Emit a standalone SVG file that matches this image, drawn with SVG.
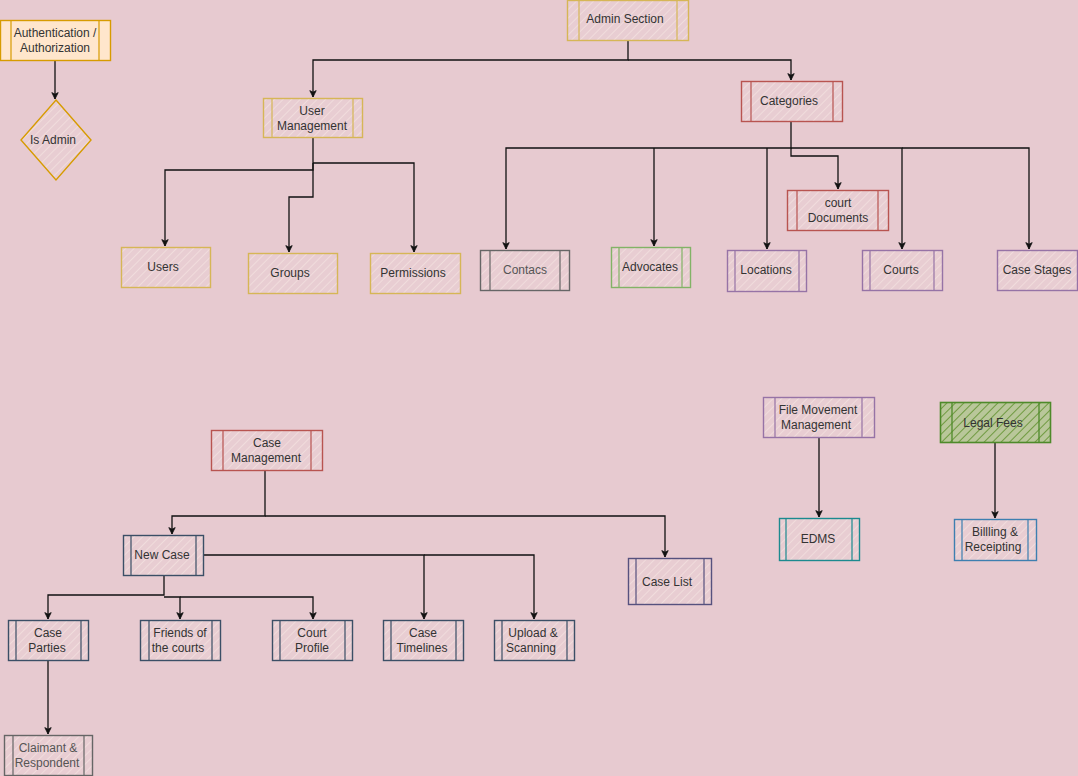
<svg xmlns="http://www.w3.org/2000/svg" width="1078" height="776" viewBox="0 0 1078 776">
<defs>
<pattern id="hp" width="6" height="6" patternUnits="userSpaceOnUse" patternTransform="rotate(45)">
<rect width="6" height="6" fill="#e8cdd2"/>
<line x1="0" y1="0" x2="0" y2="6" stroke="#f0dcdc" stroke-width="2"/>
</pattern>
<pattern id="hg" width="6" height="6" patternUnits="userSpaceOnUse" patternTransform="rotate(45)">
<rect width="6" height="6" fill="#b9c79a"/>
<line x1="0" y1="0" x2="0" y2="6" stroke="#6f9a40" stroke-width="2"/>
</pattern>
<marker id="ar" viewBox="0 0 10 10" refX="9" refY="5" markerWidth="8" markerHeight="8" orient="auto" markerUnits="userSpaceOnUse">
<path d="M1,1 L9,5 L1,9 L3,5 z" fill="#111" stroke="#111" stroke-width="1"/>
</marker>
</defs>
<style>
.n{fill:url(#hp);stroke-width:1.4}
.y{stroke:#d6b656}
.o{stroke:#d79b00}
.r{stroke:#b85450}
.g{stroke:#82b366}
.gd{stroke:#4e8a2a}
.p{stroke:#9673a6}
.k{stroke:#666666}
.b{stroke:#3b4f66}
.bl{stroke:#3d7fb0}
.t{stroke:#1b8a8f}
.cl{stroke:#56517e}
text{font-family:"Liberation Sans",Arial,sans-serif;font-size:12px;fill:#333;text-anchor:middle}
.c path{fill:none;stroke:#111;stroke-width:1.3;marker-end:url(#ar)}
</style>
<rect width="1078" height="776" fill="#e7cad0"/>

<g class="c" id="connectors">
<path d="M55,60 V99"/>
<path d="M628,40 V60 H313 V97"/>
<path d="M628,60 H791 V80"/>
<path d="M313,138 V170 H165 V246"/>
<path d="M313,163 V197 H289 V252"/>
<path d="M313,163 H414 V252"/>
<path d="M791,122 V148 H506 V249"/>
<path d="M654,148 V246"/>
<path d="M767,148 V249"/>
<path d="M791,148 V156 H838 V189"/>
<path d="M791,148 H902 V249"/>
<path d="M902,148 H1029 V249"/>
<path d="M265,470 V516 H172 V534"/>
<path d="M265,516 H665 V557"/>
<path d="M164,575 V595 H48 V619"/>
<path d="M164,597 H180 V619"/>
<path d="M180,597 H313 V619"/>
<path d="M204,555 H424 V619"/>
<path d="M424,555 H534 V619"/>
<path d="M48,660 V734"/>
<path d="M819,437 V517"/>
<path d="M995,442 V518"/>
</g>

<g id="auth">
<rect x="0.5" y="20.5" width="110" height="40" fill="#ffe6cc" stroke="#d79b00" stroke-width="1.4"/>
<path d="M11,20.5 V60.5 M99,20.5 V60.5" stroke="#d79b00" stroke-width="1.2"/>
<text x="55" y="37">Authentication /</text>
<text x="55" y="52">Authorization</text>
</g>
<g id="isadmin">
<path class="n o" d="M56,100 L91,140 L56,180 L21,140 Z"/>
<text x="53" y="144">Is Admin</text>
</g>
<g id="admin">
<rect class="n y" x="567.5" y="0.5" width="121" height="40"/>
<path class="y" d="M579,0 V40 M677,0 V40" stroke-width="1.2"/>
<text x="625" y="23">Admin Section</text>
</g>
<g id="categories">
<rect class="n r" x="741.5" y="81.5" width="101" height="40"/>
<path class="r" d="M751,81 V121 M833,81 V121" stroke-width="1.2"/>
<text x="789" y="105">Categories</text>
</g>
<g id="usermgmt">
<rect class="n y" x="263.5" y="98.5" width="99" height="39"/>
<path class="y" d="M272,98 V138 M353,98 V138" stroke-width="1.2"/>
<text x="312" y="115">User</text>
<text x="312" y="130">Management</text>
</g>
<g id="users">
<rect class="n y" x="121.5" y="247.5" width="89" height="40"/>
<text x="163" y="271">Users</text>
</g>
<g id="groups">
<rect class="n y" x="248.5" y="253.5" width="89" height="40"/>
<text x="290" y="277">Groups</text>
</g>
<g id="permissions">
<rect class="n y" x="370.5" y="253.5" width="90" height="40"/>
<text x="413" y="277">Permissions</text>
</g>
<g id="contacs">
<rect class="n k" x="480.5" y="250.5" width="89" height="40"/>
<path class="k" d="M490,250 V290 M560,250 V290" stroke-width="1.2"/>
<text x="525" y="274" style="fill:#555">Contacs</text>
</g>
<g id="advocates">
<rect class="n g" x="611.5" y="247.5" width="79" height="40"/>
<path class="g" d="M619,247 V287 M682,247 V287" stroke-width="1.2"/>
<text x="650" y="271">Advocates</text>
</g>
<g id="locations">
<rect class="n p" x="727.5" y="250.5" width="79" height="41"/>
<path class="p" d="M735,250 V291 M799,250 V291" stroke-width="1.2"/>
<text x="766" y="274">Locations</text>
</g>
<g id="courtdocs">
<rect class="n r" x="787.5" y="190.5" width="101" height="40"/>
<path class="r" d="M797,190 V230 M878,190 V230" stroke-width="1.2"/>
<text x="838" y="207">court</text>
<text x="838" y="222">Documents</text>
</g>
<g id="courts">
<rect class="n p" x="862.5" y="250.5" width="80" height="40"/>
<path class="p" d="M870,250 V290 M934,250 V290" stroke-width="1.2"/>
<text x="901" y="274">Courts</text>
</g>
<g id="casestages">
<rect class="n p" x="997.5" y="250.5" width="80" height="40"/>
<text x="1037" y="274">Case Stages</text>
</g>
<g id="casemgmt">
<rect class="n r" x="211.5" y="430.5" width="111" height="40"/>
<path class="r" d="M223,430 V470 M311,430 V470" stroke-width="1.2"/>
<text x="267" y="447">Case</text>
<text x="266" y="462">Management</text>
</g>
<g id="newcase">
<rect class="n b" x="123.5" y="535.5" width="80" height="40"/>
<path class="b" d="M131,535 V575 M196,535 V575" stroke-width="1.2"/>
<text x="162" y="559">New Case</text>
</g>
<g id="caselist">
<rect class="n cl" x="628.5" y="558.5" width="83" height="46"/>
<path class="cl" d="M636,558 V604 M704,558 V604" stroke-width="1.2"/>
<text x="667" y="586">Case List</text>
</g>
<g id="caseparties">
<rect class="n b" x="8.5" y="620.5" width="80" height="40"/>
<path class="b" d="M16,620 V660 M81,620 V660" stroke-width="1.2"/>
<text x="48" y="637">Case</text>
<text x="47" y="652">Parties</text>
</g>
<g id="friends">
<rect class="n b" x="140.5" y="620.5" width="80" height="40"/>
<path class="b" d="M149,620 V660 M212,620 V660" stroke-width="1.2"/>
<text x="180" y="637">Friends of</text>
<text x="178" y="652">the courts</text>
</g>
<g id="courtprofile">
<rect class="n b" x="272.5" y="620.5" width="80" height="40"/>
<path class="b" d="M280,620 V660 M345,620 V660" stroke-width="1.2"/>
<text x="312" y="637">Court</text>
<text x="312" y="652">Profile</text>
</g>
<g id="timelines">
<rect class="n b" x="383.5" y="620.5" width="80" height="40"/>
<path class="b" d="M391,620 V660 M456,620 V660" stroke-width="1.2"/>
<text x="423" y="637">Case</text>
<text x="422" y="652">Timelines</text>
</g>
<g id="upload">
<rect class="n b" x="494.5" y="620.5" width="80" height="40"/>
<path class="b" d="M502,620 V660 M567,620 V660" stroke-width="1.2"/>
<text x="533" y="637">Upload &amp;</text>
<text x="531" y="652">Scanning</text>
</g>
<g id="claimant">
<rect class="n k" x="4.5" y="735.5" width="88" height="40"/>
<path class="k" d="M13,735 V775 M84,735 V775" stroke-width="1.2"/>
<text x="48" y="752" style="fill:#555">Claimant &amp;</text>
<text x="47" y="767" style="fill:#555">Respondent</text>
</g>
<g id="filemove">
<rect class="n p" x="763.5" y="397.5" width="111" height="40"/>
<path class="p" d="M775,397 V437 M862,397 V437" stroke-width="1.2"/>
<text x="818" y="414">File Movement</text>
<text x="816" y="429">Management</text>
</g>
<g id="legalfees">
<rect x="940.5" y="402.5" width="110" height="40" fill="url(#hg)" stroke="#4e8a2a" stroke-width="1.6"/>
<path d="M952,402 V442 M1039,402 V442" stroke="#4e8a2a" stroke-width="1.3"/>
<text x="993" y="427">Legal Fees</text>
</g>
<g id="edms">
<rect class="n t" x="779.5" y="518.5" width="80" height="42"/>
<path class="t" d="M786,518 V560 M852,518 V560" stroke-width="1.2"/>
<text x="818" y="543">EDMS</text>
</g>
<g id="billing">
<rect class="n bl" x="954.5" y="519.5" width="82" height="41"/>
<path class="bl" d="M962,519 V560 M1028,519 V560" stroke-width="1.2"/>
<text x="995" y="536">Billling &amp;</text>
<text x="993" y="551">Receipting</text>
</g>
</svg>
